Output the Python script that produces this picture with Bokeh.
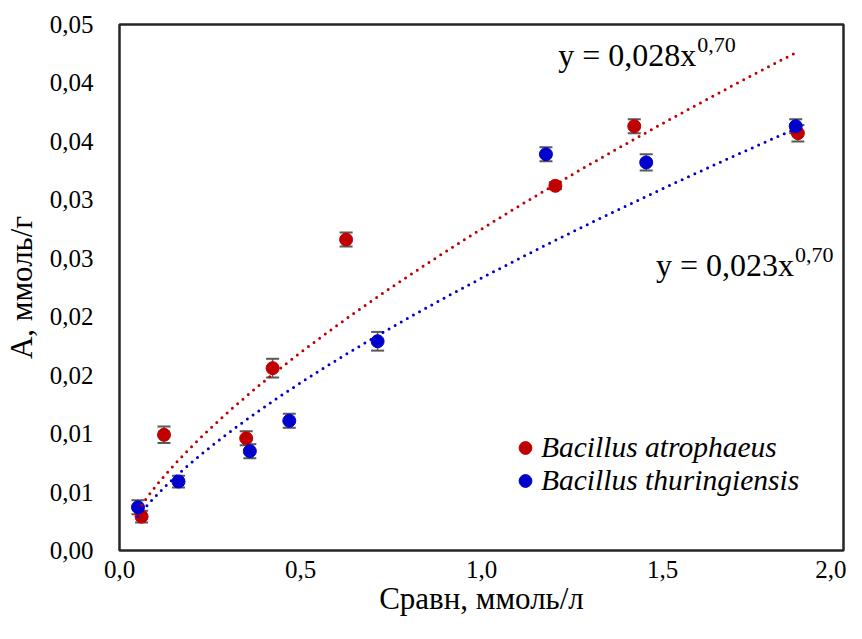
import numpy as np
from bokeh.plotting import figure
from bokeh.models import (ColumnDataSource, Range1d, FixedTicker, Whisker, TeeHead,
                          Label, Legend, LegendItem)
from bokeh.embed import file_html
from bokeh.resources import INLINE

# ---- data ----
x_atrophaeus = [0.061, 0.123, 0.350, 0.423, 0.626, 1.204, 1.422, 1.874]
y_atrophaeus = [0.0029, 0.0099, 0.0096, 0.0156, 0.0266, 0.0312, 0.0363, 0.0357]
err_atrophaeus = [0.0005, 0.0007, 0.0006, 0.0008, 0.0006, 0.0003, 0.0006, 0.0007]

x_thuringiensis = [0.051, 0.163, 0.360, 0.469, 0.713, 1.178, 1.455, 1.868]
y_thuringiensis = [0.0037, 0.0059, 0.0085, 0.0111, 0.0179, 0.0339, 0.0332, 0.0363]
err_thuringiensis = [0.0006, 0.0005, 0.0006, 0.0006, 0.0008, 0.0006, 0.0007, 0.0006]

# power trend lines y = a * x^b (as displayed)
trend_a_atrophaeus = 0.0275
trend_a_thuringiensis = 0.0233
trend_b = 0.70

series_names = ["Bacillus atrophaeus", "Bacillus thuringiensis"]
equation_texts = ["y = 0,028x", "y = 0,023x"]
exponent_text = "0,70"

x_ticks = [0.0, 0.5, 1.0, 1.5, 2.0]
x_tick_labels = ["0,0", "0,5", "1,0", "1,5", "2,0"]
y_ticks = [0.0, 0.005, 0.01, 0.015, 0.02, 0.025, 0.03, 0.035, 0.04, 0.045]
y_tick_labels = ["0,00", "0,01", "0,01", "0,02", "0,02", "0,03", "0,03", "0,04", "0,04", "0,05"]

x_title = "Сравн, ммоль/л"
y_title = "А, ммоль/г"

RED = "#C00000"
BLUE = "#0000CC"
ERR = "#595959"
FONT = "Liberation Serif"

p = figure(width=846, height=623, output_backend="svg", toolbar_location=None,
           x_range=Range1d(0, 2), y_range=Range1d(0, 0.045),
           min_border_left=117, min_border_right=3, min_border_top=24, min_border_bottom=73)
p.background_fill_color = "white"
p.border_fill_color = "white"
p.outline_line_color = "#262626"
p.outline_line_width = 2.5
p.grid.visible = False

for ax in (p.xaxis[0], p.yaxis[0]):
    ax.axis_line_color = None
    ax.major_tick_line_color = None
    ax.minor_tick_line_color = None
    ax.major_tick_out = 0
    ax.major_tick_in = 0
    ax.minor_tick_out = 0
    ax.minor_tick_in = 0
    ax.major_label_text_font = FONT
    ax.major_label_text_font_size = "25px"
    ax.major_label_text_color = "black"
    ax.axis_label_text_font = FONT
    ax.axis_label_text_font_style = "normal"
    ax.axis_label_text_font_size = "31px"
    ax.axis_label_text_color = "black"

p.xaxis.ticker = FixedTicker(ticks=x_ticks)
p.xaxis.major_label_overrides = dict(zip(x_ticks, x_tick_labels))
p.yaxis.ticker = FixedTicker(ticks=y_ticks)
p.yaxis.major_label_overrides = dict(zip(y_ticks, y_tick_labels))
p.xaxis.axis_label = x_title
p.yaxis.axis_label = y_title
p.xaxis.major_label_standoff = 10
p.xaxis.axis_label_standoff = 0
p.yaxis.major_label_standoff = 26
p.yaxis.axis_label_standoff = 8

def add_series(xs, ys, errs, color):
    src = ColumnDataSource(dict(x=xs, y=ys,
                                upper=[a + b for a, b in zip(ys, errs)],
                                lower=[a - b for a, b in zip(ys, errs)]))
    w = Whisker(source=src, base="x", upper="upper", lower="lower", dimension="height",
                line_color=ERR, line_width=1.5,
                upper_head=TeeHead(size=13, line_color=ERR, line_width=2),
                lower_head=TeeHead(size=13, line_color=ERR, line_width=2))
    p.add_layout(w)
    r = p.scatter("x", "y", source=src, size=13, marker="circle",
                  fill_color=color, line_color=color)
    return r

r_atro = add_series(x_atrophaeus, y_atrophaeus, err_atrophaeus, RED)
r_thur = add_series(x_thuringiensis, y_thuringiensis, err_thuringiensis, BLUE)

def add_trend(xs, a, color):
    tx = np.linspace(min(xs), max(xs), 200)
    ty = a * tx ** trend_b
    p.line(tx, ty, line_color=color, line_width=3, line_dash="0 7", line_cap="round")

add_trend(x_atrophaeus, trend_a_atrophaeus, RED)
add_trend(x_thuringiensis, trend_a_thuringiensis, BLUE)

# equations
for (lx, ly, txt) in [(1.212, 0.04240, equation_texts[0]), (1.482, 0.02440, equation_texts[1])]:
    p.add_layout(Label(x=lx, y=ly, text=txt, text_font=FONT, text_font_size="32px",
                       text_color="black", text_baseline="alphabetic"))
    p.add_layout(Label(x=lx, y=ly, x_offset=139, y_offset=10, text=exponent_text,
                       text_font=FONT, text_font_size="22px",
                       text_color="black", text_baseline="alphabetic"))

legend = Legend(items=[LegendItem(label=series_names[0], renderers=[r_atro]),
                       LegendItem(label=series_names[1], renderers=[r_thur])],
                location=(390, 53), orientation="vertical")
legend.label_text_font = FONT
legend.label_text_font_style = "italic"
legend.label_text_font_size = "29.5px"
legend.label_text_color = "black"
legend.glyph_width = 32
legend.glyph_height = 33
legend.label_height = 33
legend.label_standoff = 0
legend.spacing = 0
legend.padding = 0
legend.margin = 0
legend.border_line_color = None
legend.background_fill_alpha = 0
p.add_layout(legend)

open("out.html", "w").write(file_html(p, INLINE))
